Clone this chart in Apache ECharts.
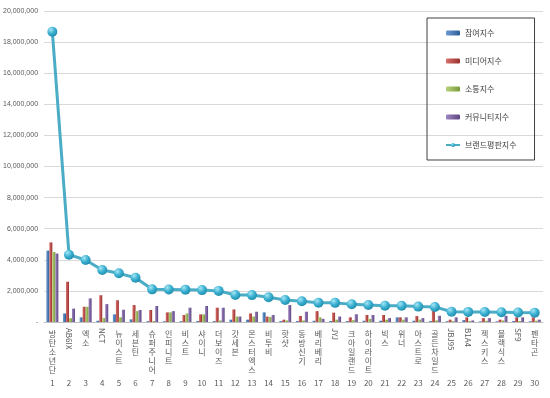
<!DOCTYPE html>
<html>
<head>
<meta charset="utf-8">
<script src="https://cdn.jsdelivr.net/npm/echarts@6/dist/echarts.min.js"></script>
<style>
  html, body { margin: 0; padding: 0; background: #fff; }
  #chart { width: 550px; height: 398px; }
</style>
</head>
<body>
<div id="chart"></div>
<script>
// groups, in rank order
const groups = ['방탄소년단', 'AB6IX', '엑소', 'NCT', '뉴이스트', '세븐틴', '슈퍼주니어', '인피니트', '비스트', '샤이니',
    '더보이즈', '갓세븐', '몬스터엑스', '비투비', '핫샷', '동방신기', '베리베리', 'JYJ', '크아일랜드', '하이라이트',
    '빅스', '위너', '아스트로', '골든차일드', 'JBJ95', 'B1A4', '젝스키스', '블랙식스', 'SF9', '펜타곤'];
const ranks = groups.map((g, i) => String(i + 1));

// index values
const participation = [4590000, 550000, 300000, 80000, 490000, 170000, 50000, 50000, 50000, 60000,
    60000, 150000, 150000, 620000, 60000, 60000, 80000, 60000, 60000, 80000,
    80000, 300000, 80000, 60000, 50000, 120000, 40000, 40000, 60000, 50000];
const media = [5120000, 2590000, 980000, 1720000, 1400000, 1090000, 770000, 620000, 450000, 490000,
    920000, 810000, 550000, 350000, 150000, 390000, 700000, 600000, 300000, 450000,
    450000, 300000, 380000, 810000, 150000, 300000, 250000, 150000, 300000, 300000];
const communication = [4500000, 240000, 980000, 250000, 300000, 700000, 60000, 620000, 550000, 490000,
    100000, 350000, 350000, 320000, 100000, 100000, 300000, 150000, 120000, 200000,
    150000, 150000, 150000, 100000, 60000, 60000, 80000, 100000, 60000, 80000];
const community = [4400000, 860000, 1520000, 1150000, 790000, 770000, 1030000, 700000, 920000, 1030000,
    920000, 350000, 660000, 450000, 1090000, 660000, 200000, 350000, 500000, 450000,
    250000, 300000, 250000, 400000, 300000, 100000, 250000, 400000, 300000, 150000];
const brand = [18670000, 4330000, 3990000, 3340000, 3130000, 2850000, 2100000, 2090000, 2080000, 2050000,
    2000000, 1740000, 1730000, 1590000, 1410000, 1330000, 1240000, 1230000, 1140000, 1090000,
    1050000, 1040000, 990000, 970000, 660000, 650000, 640000, 630000, 610000, 600000];

const seriesNames = ['참여지수', '미디어지수', '소통지수', '커뮤니티지수', '브랜드평판지수'];

let isLatin = (s) => /^[A-Za-z0-9]+$/.test(s);

function barColor(light, dark) {
    return new echarts.graphic.LinearGradient(0, 0, 1, 0, [
        { offset: 0, color: light },
        { offset: 1, color: dark }
    ]);
}

function barSeries(name, data, light, dark) {
    return {
        name: name,
        type: 'bar',
        data: data,
        barWidth: 3,
        barGap: '0%',
        itemStyle: { color: barColor(light, dark) }
    };
}

let chart = echarts.init(document.getElementById('chart'), null, { renderer: 'canvas' });

const labelFont = { fontFamily: 'Noto Sans CJK KR', fontSize: 8, color: '#595959' };

chart.setOption({
    animation: false,
    textStyle: { fontFamily: 'Noto Sans CJK KR' },
    grid: { left: 43, right: 7, top: 11, bottom: 76, containLabel: false },
    legend: {
        orient: 'vertical',
        left: 427,
        top: 18,
        data: seriesNames,
        itemWidth: 14,
        itemHeight: 5,
        itemGap: 20,
        padding: [11, 18, 11, 18],
        borderColor: '#404040',
        borderWidth: 1,
        textStyle: { fontSize: 8, color: '#404040', fontFamily: 'Noto Sans CJK KR' }
    },
    xAxis: [
        {
            // rank numbers plus the separators between categories
            type: 'category',
            position: 'bottom',
            data: ranks,
            axisLine: { lineStyle: { color: '#bfbfbf' } },
            axisTick: { length: 70, lineStyle: { color: '#d9d9d9' } },
            axisLabel: Object.assign({ interval: 0, margin: 57 }, labelFont)
        },
        {
            // korean names, stacked top to bottom
            type: 'category',
            position: 'bottom',
            data: groups,
            axisLine: { show: false },
            axisTick: { show: false },
            axisLabel: Object.assign({
                interval: 0,
                margin: 7,
                lineHeight: 9,
                formatter: (v) => isLatin(v) ? '' : v.split('').join('\n')
            }, labelFont)
        },
        {
            // latin names, turned on their side
            type: 'category',
            position: 'bottom',
            data: groups,
            axisLine: { show: false },
            axisTick: { show: false },
            axisLabel: Object.assign({
                interval: 0,
                margin: 6,
                rotate: -90,
                formatter: (v) => isLatin(v) ? v : ''
            }, labelFont)
        }
    ],
    yAxis: {
        type: 'value',
        min: 0,
        max: 20000000,
        interval: 2000000,
        axisLine: { show: false },
        axisTick: { show: false },
        splitLine: { lineStyle: { color: '#d9d9d9' } },
        axisLabel: {
            fontFamily: 'Liberation Sans',
            fontSize: 7,
            color: '#595959',
            margin: 6,
            formatter: (v) => v === 0 ? '-' : String(v).replace(/\B(?=(\d{3})+(?!\d))/g, ',')
        }
    },
    series: [
        barSeries(seriesNames[0], participation, '#6d9bd1', '#2c5d97'),
        barSeries(seriesNames[1], media, '#d9706c', '#98302d'),
        barSeries(seriesNames[2], communication, '#b5d27a', '#7a9a3a'),
        barSeries(seriesNames[3], community, '#9e86c0', '#5d4483'),
        {
            name: seriesNames[4],
            type: 'line',
            data: brand,
            symbol: 'circle',
            symbolSize: 10,
            z: 5,
            lineStyle: { color: '#4BACC6', width: 3 },
            itemStyle: {
                color: new echarts.graphic.RadialGradient(0.35, 0.3, 0.75, [
                    { offset: 0, color: '#a8e6f5' },
                    { offset: 0.5, color: '#3fb3d3' },
                    { offset: 1, color: '#1c8aab' }
                ]),
                borderWidth: 0
            }
        }
    ]
});
</script>
</body>
</html>
